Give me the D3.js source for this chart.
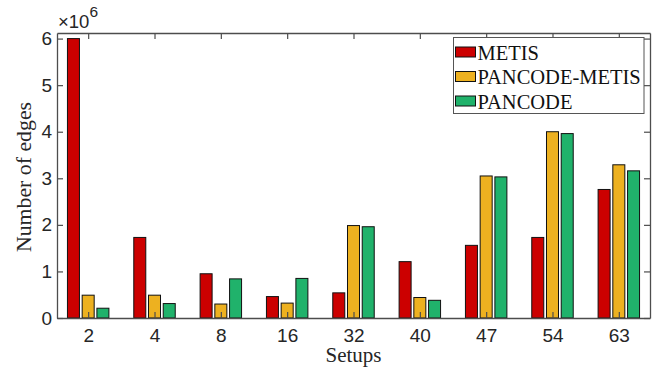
<!DOCTYPE html>
<html>
<head>
<meta charset="utf-8">
<script src="https://cdn.jsdelivr.net/npm/d3@7/dist/d3.min.js"></script>
<style>
  body { margin: 0; background: #fff; }
  svg { display: block; }
</style>
</head>
<body>
<svg class="chart"></svg>
<script>
const setups = ["2", "4", "8", "16", "32", "40", "47", "54", "63"];
const metis = [6.0, 1.73, 0.95, 0.46, 0.54, 1.21, 1.56, 1.73, 2.76];
const pancodeMetis = [0.49, 0.49, 0.30, 0.32, 1.985, 0.44, 3.05, 4.0, 3.29];
const pancode = [0.21, 0.31, 0.84, 0.85, 1.96, 0.38, 3.03, 3.96, 3.16];
const seriesNames = ["METIS", "PANCODE-METIS", "PANCODE"];
const yTicks = [0, 1, 2, 3, 4, 5, 6];

const colors = ["#cc0000", "#edb120", "#20b26b"];
const W = 659, H = 369;
const margin = {top: 33, right: 9, bottom: 51, left: 57};
const width = W - margin.left - margin.right;
const height = H - margin.top - margin.bottom;

const svg = d3.select('.chart').attr('width', W).attr('height', H);
const chart = svg.append('g')
  .attr('transform', 'translate(' + margin.left + ',' + margin.top + ')');

var x = d3.scaleLinear().domain([0.53, 9.47]).range([0, width]);
var y = d3.scaleLinear().domain([0, 6.12]).range([height, 0]);

var series = [metis, pancodeMetis, pancode];
var offset = [-0.222, 0, 0.222];
var barW = 12;

// bars
series.forEach(function(vals, s) {
  chart.append('g')
    .selectAll('rect')
    .data(vals)
    .enter()
    .append('rect')
      .attr('x', (d, i) => x(i + 1 + offset[s]) - barW / 2)
      .attr('y', (d) => y(d))
      .attr('width', barW)
      .attr('height', (d) => y(0) - y(d))
      .attr('fill', colors[s])
      .attr('stroke', '#111')
      .attr('stroke-width', 1);
});

// axes (box style, ticks inward)
var tickFont = '"Liberation Sans", Arial, sans-serif';
var axisColor = '#4d4d4d';
var xIdx = setups.map((d, i) => i + 1);

var xAxis = d3.axisBottom(x).tickValues(xIdx).tickFormat((d) => setups[d - 1]).tickSizeInner(-6).tickSizeOuter(0).tickPadding(11);
var gx = chart.append('g').attr('transform', 'translate(0,' + height + ')').call(xAxis);
var gxTop = chart.append('g').call(d3.axisTop(x).tickValues(xIdx).tickFormat('').tickSizeInner(-6).tickSizeOuter(0));
var yAxis = d3.axisLeft(y).tickValues(yTicks).tickFormat(d3.format('d')).tickSizeInner(-6).tickSizeOuter(0).tickPadding(5);
var gy = chart.append('g').call(yAxis);
var gyR = chart.append('g').attr('transform', 'translate(' + width + ',0)')
  .call(d3.axisRight(y).tickValues(yTicks).tickFormat('').tickSizeInner(-6).tickSizeOuter(0));

[gx, gxTop, gy, gyR].forEach(function(g) {
  g.select('.domain').attr('stroke', axisColor).attr('stroke-width', 1.3);
  g.selectAll('.tick line').attr('stroke', axisColor).attr('stroke-width', 1.2);
  g.selectAll('.tick text').attr('fill', '#262626').style('font-family', tickFont).style('font-size', '19px');
});

// exponent label
var expo = svg.append('text')
  .attr('x', margin.left + 1)
  .attr('y', 28)
  .attr('fill', '#262626')
  .style('font-family', tickFont)
  .style('font-size', '18.5px');
expo.append('tspan').text('\u00d710');
expo.append('tspan').attr('dy', -11).style('font-size', '15.5px').text('6');

// axis titles
var serif = '"Liberation Serif", "Times New Roman", serif';
svg.append('text')
  .attr('x', margin.left + width / 2)
  .attr('y', 362)
  .attr('text-anchor', 'middle')
  .attr('fill', '#262626')
  .style('font-family', serif)
  .style('font-size', '21px')
  .text('Setups');

svg.append('text')
  .attr('transform', 'translate(31,177) rotate(-90)')
  .attr('text-anchor', 'middle')
  .attr('fill', '#262626')
  .style('font-family', serif)
  .style('font-size', '21.8px')
  .text('Number of edges');

// legend
var lg = svg.append('g').attr('transform', 'translate(453.5,37.5)');
lg.append('rect')
  .attr('width', 190.5)
  .attr('height', 76)
  .attr('fill', '#fff')
  .attr('stroke', '#555')
  .attr('stroke-width', 1);

seriesNames.forEach(function(name, i) {
  var row = lg.append('g').attr('transform', 'translate(2,' + (15 + i * 24.5) + ')');
  row.append('rect')
    .attr('x', 0).attr('y', -5.5)
    .attr('width', 20).attr('height', 10)
    .attr('fill', colors[i])
    .attr('stroke', '#111');
  row.append('text')
    .attr('x', 22)
    .attr('y', 7)
    .attr('fill', '#111')
    .style('font-family', serif)
    .style('font-size', '20.5px')
    .text(name);
});
</script>
</body>
</html>
